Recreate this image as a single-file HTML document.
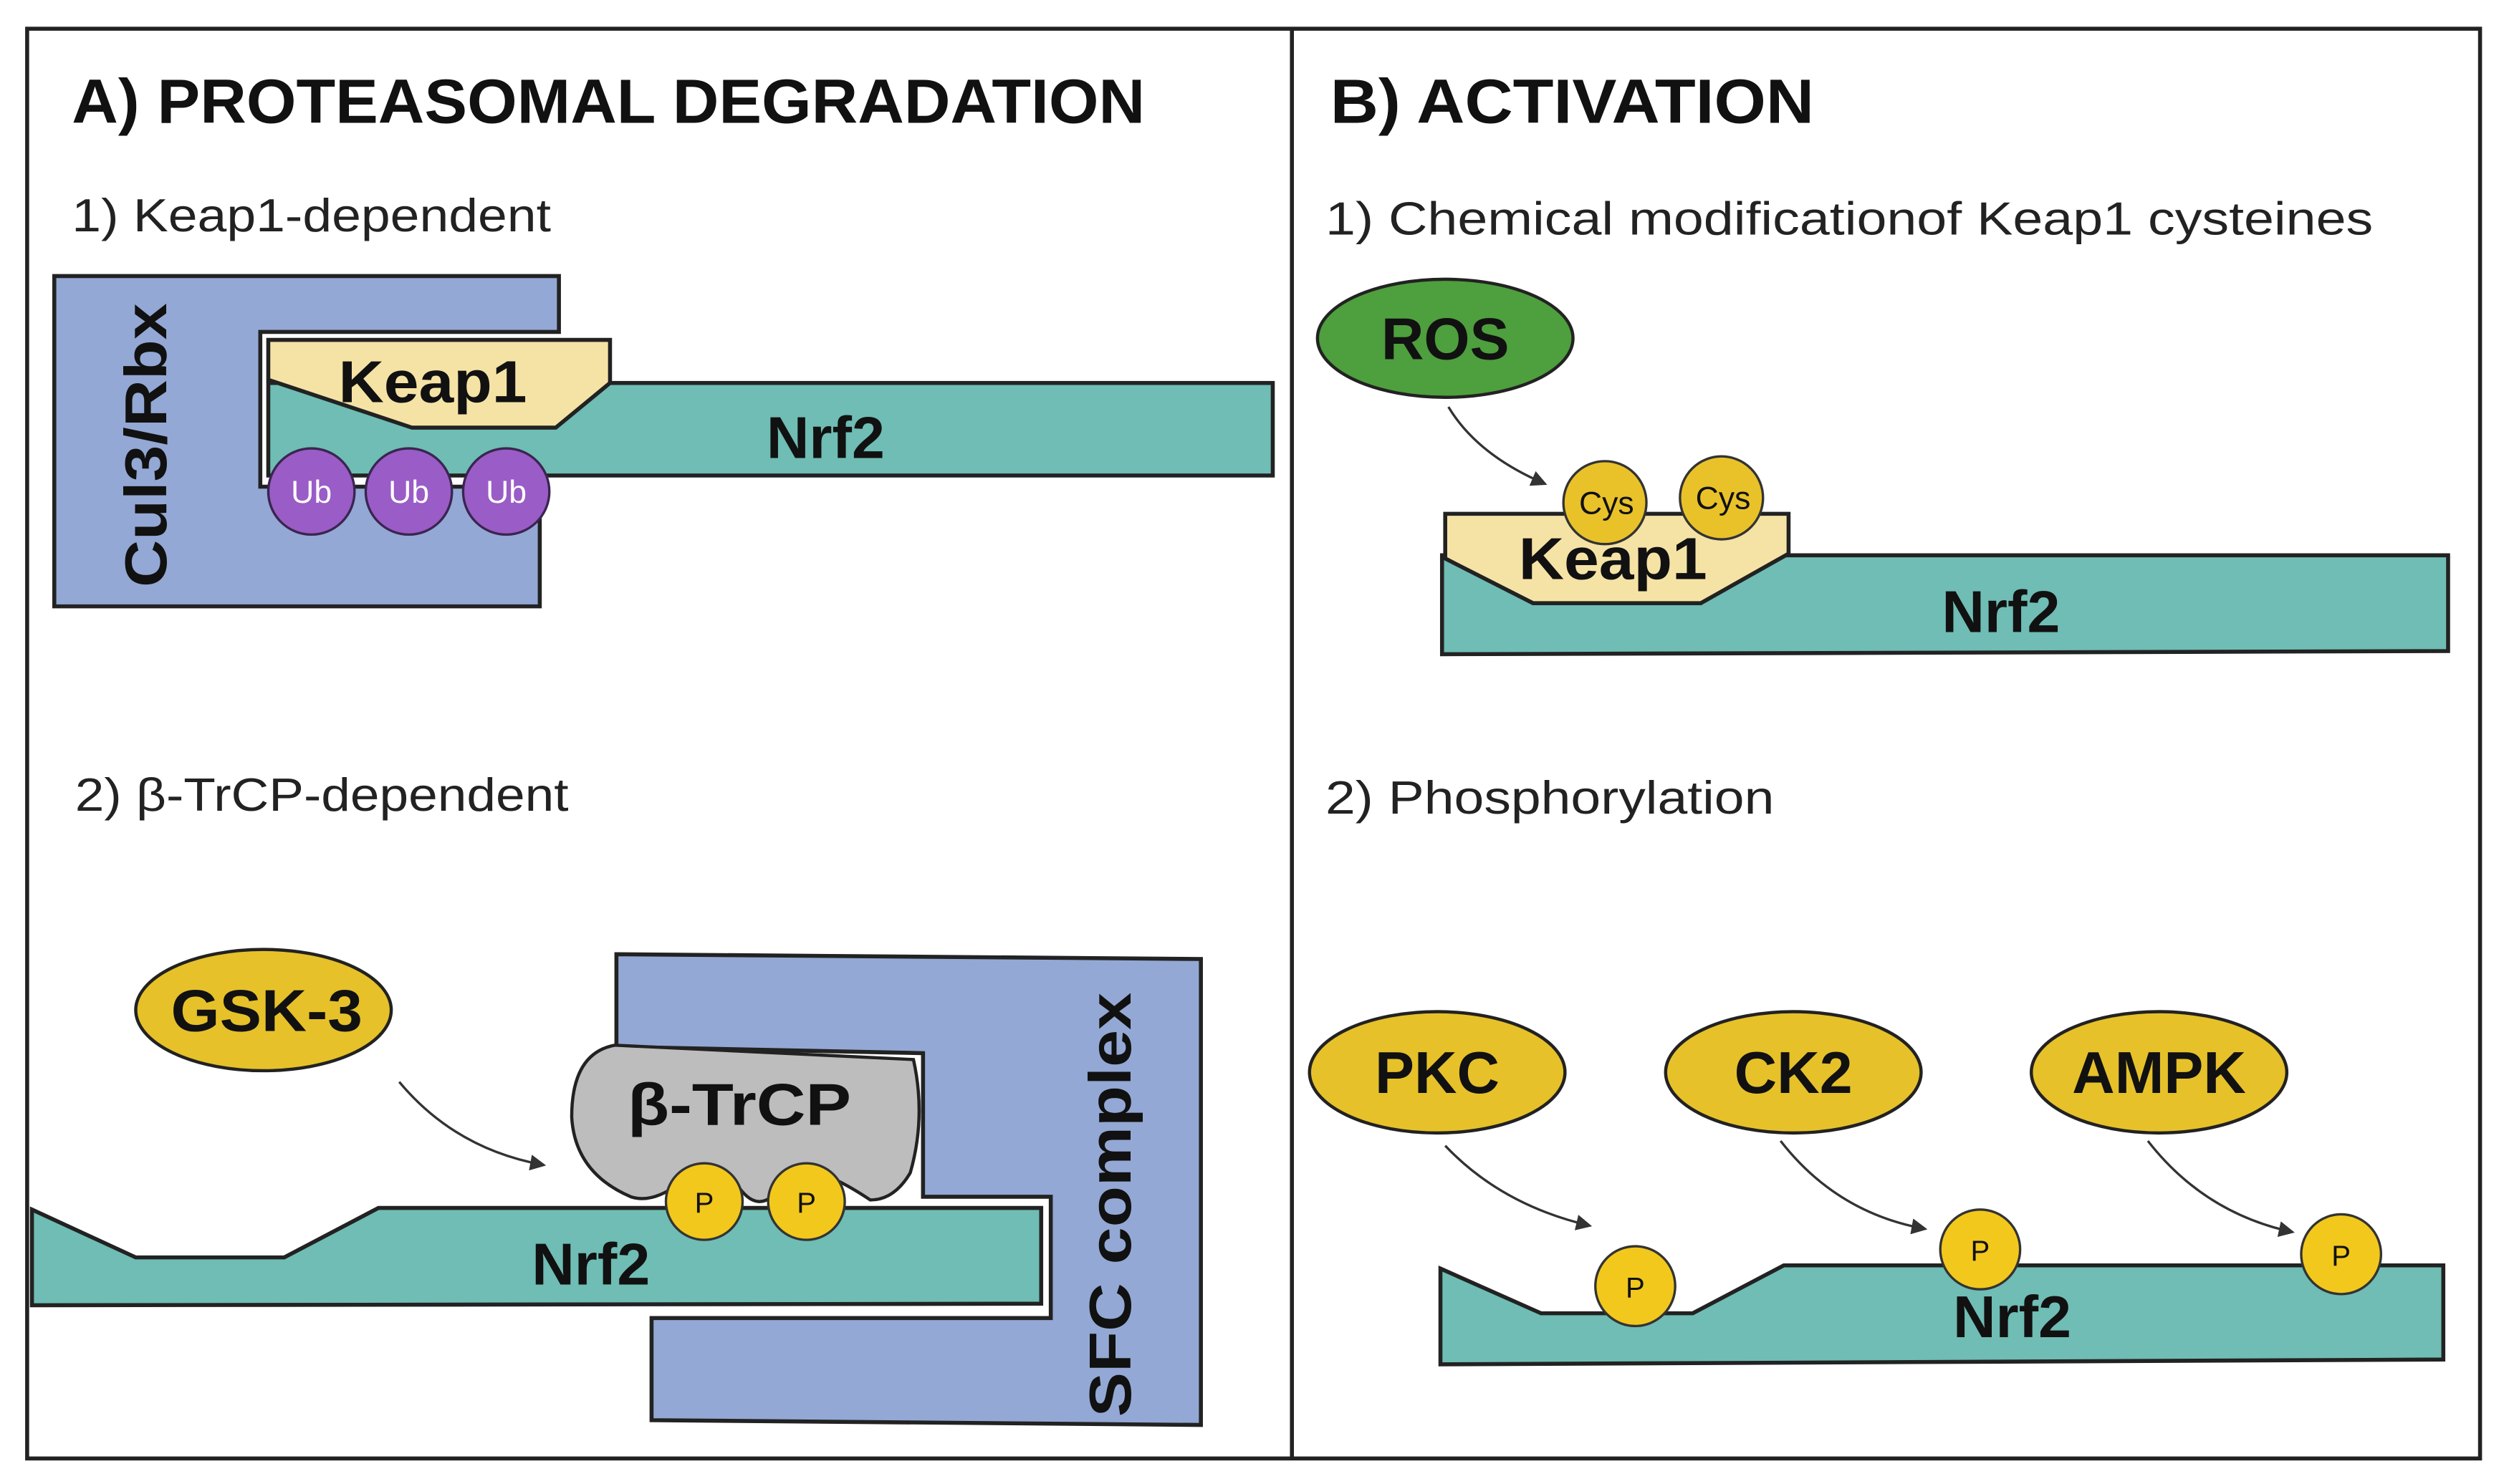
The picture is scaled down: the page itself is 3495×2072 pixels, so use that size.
<!DOCTYPE html>
<html><head><meta charset="utf-8"><style>
html,body{margin:0;padding:0;background:#fff}
svg{display:block}
text{font-family:"Liberation Sans",Arial,sans-serif}
.b{font-weight:bold}
</style></head><body>
<svg width="3495" height="2072" viewBox="0 0 1568 930" preserveAspectRatio="none" xmlns="http://www.w3.org/2000/svg">
<defs><marker id="ah" markerWidth="10" markerHeight="10" refX="8" refY="5" orient="auto" markerUnits="userSpaceOnUse"><path d="M0,0 L10,5 L0,10 Z" fill="#333"/></marker></defs>
<rect x="17" y="18" width="1536" height="896" fill="#fff" stroke="#222" stroke-width="2.5"/>
<line x1="809" y1="18" x2="809" y2="914" stroke="#222" stroke-width="2.5"/>

<!-- Panel A -->
<text x="45" y="77" class="b" font-size="39" fill="#111" textLength="672" lengthAdjust="spacingAndGlyphs">A) PROTEASOMAL DEGRADATION</text>
<text x="45" y="145" font-size="29" fill="#222" textLength="300" lengthAdjust="spacingAndGlyphs">1) Keap1-dependent</text>
<polygon points="34,173 350,173 350,208 163,208 163,305 338,305 338,380 34,380" fill="#93a8d4" stroke="#222" stroke-width="2.5"/>
<text transform="translate(104,279) rotate(-90)" text-anchor="middle" class="b" font-size="37" fill="#111" textLength="178" lengthAdjust="spacingAndGlyphs">Cul3/Rbx</text>
<rect x="168" y="240" width="629" height="58" fill="#6fbdb4" stroke="#222" stroke-width="2.5"/>
<polygon points="168,213 382,213 382,240 348,268 258,268 168,238" fill="#f5e3a6" stroke="#222" stroke-width="2.5"/>
<text x="271" y="252" text-anchor="middle" class="b" font-size="37" fill="#111" textLength="118" lengthAdjust="spacingAndGlyphs">Keap1</text>
<text x="517" y="287" text-anchor="middle" class="b" font-size="37" fill="#111">Nrf2</text>
<g fill="#9a5cc6" stroke="#3a2550" stroke-width="1.5">
<circle cx="195" cy="308" r="27"/><circle cx="256" cy="308" r="27"/><circle cx="317" cy="308" r="27"/></g>
<g fill="#fff" font-size="20" text-anchor="middle"><text x="195" y="315">Ub</text><text x="256" y="315">Ub</text><text x="317" y="315">Ub</text></g>

<text x="47" y="508" font-size="29" fill="#222" textLength="309" lengthAdjust="spacingAndGlyphs">2) β-TrCP-dependent</text>
<polygon points="386,598 752,601 752,893 408,890 408,826 658,826 658,750 578,750 578,660 386,656" fill="#93a8d4" stroke="#222" stroke-width="2.5"/>
<text transform="translate(708,755) rotate(-90)" text-anchor="middle" class="b" font-size="37" fill="#111" textLength="266" lengthAdjust="spacingAndGlyphs">SFC  complex</text>
<polygon points="20,758 85,788 178,788 237,757 652,757 652,817 20,818" fill="#6fbdb4" stroke="#222" stroke-width="2.5"/>
<path d="M385,655 L572,664 Q580,700 570,735 Q560,752 545,752 Q530,742 520,738 Q505,730 490,742 Q475,765 460,740 Q445,728 430,738 Q410,755 395,750 Q360,735 358,700 Q358,660 385,655 Z" fill="#bdbdbd" stroke="#222" stroke-width="2"/>
<text x="463" y="705" text-anchor="middle" class="b" font-size="37" fill="#111" textLength="140" lengthAdjust="spacingAndGlyphs">β-TrCP</text>
<g fill="#f2c81c" stroke="#333" stroke-width="1.5"><circle cx="441" cy="753" r="24"/><circle cx="505" cy="753" r="24"/></g>
<g font-size="18" text-anchor="middle" fill="#111"><text x="441" y="760">P</text><text x="505" y="760">P</text></g>
<text x="370" y="805" text-anchor="middle" class="b" font-size="37" fill="#111">Nrf2</text>
<ellipse cx="165" cy="633" rx="80" ry="38" fill="#e6c12a" stroke="#222" stroke-width="2"/>
<text x="167" y="646" text-anchor="middle" class="b" font-size="37" fill="#111" textLength="120" lengthAdjust="spacingAndGlyphs">GSK-3</text>
<path d="M250,678 Q285,720 340,730" fill="none" stroke="#333" stroke-width="1.5" marker-end="url(#ah)"/>

<!-- Panel B -->
<text x="833" y="77" class="b" font-size="39" fill="#111" textLength="303" lengthAdjust="spacingAndGlyphs">B) ACTIVATION</text>
<text x="830" y="147" font-size="29" fill="#222" textLength="656" lengthAdjust="spacingAndGlyphs">1) Chemical modificationof Keap1 cysteines</text>
<ellipse cx="905" cy="212" rx="80" ry="37" fill="#4e9f3d" stroke="#222" stroke-width="2"/>
<text x="905" y="225" text-anchor="middle" class="b" font-size="37" fill="#111">ROS</text>
<path d="M907,255 Q925,285 967,303" fill="none" stroke="#333" stroke-width="1.5" marker-end="url(#ah)"/>
<polygon points="903,348 1533,348 1533,408 903,410" fill="#6fbdb4" stroke="#222" stroke-width="2.5"/>
<polygon points="905,322 1120,322 1120,347 1065,378 960,378 905,350" fill="#f5e3a6" stroke="#222" stroke-width="2.5"/>
<g fill="#e9c22a" stroke="#333" stroke-width="1.5"><circle cx="1005" cy="315" r="26"/><circle cx="1078" cy="312" r="26"/></g>
<g font-size="20" text-anchor="middle" fill="#111"><text x="1006" y="322">Cys</text><text x="1079" y="319">Cys</text></g>
<text x="1010" y="363" text-anchor="middle" class="b" font-size="37" fill="#111" textLength="118" lengthAdjust="spacingAndGlyphs">Keap1</text>
<text x="1253" y="396" text-anchor="middle" class="b" font-size="37" fill="#111">Nrf2</text>

<text x="830" y="510" font-size="29" fill="#222" textLength="281" lengthAdjust="spacingAndGlyphs">2) Phosphorylation</text>
<polygon points="902,795 965,823 1060,823 1117,793 1530,793 1530,852 902,855" fill="#6fbdb4" stroke="#222" stroke-width="2.5"/>
<text x="1260" y="838" text-anchor="middle" class="b" font-size="37" fill="#111">Nrf2</text>
<g fill="#e6c12a" stroke="#222" stroke-width="2">
<ellipse cx="900" cy="672" rx="80" ry="38"/><ellipse cx="1123" cy="672" rx="80" ry="38"/><ellipse cx="1352" cy="672" rx="80" ry="38"/></g>
<g class="b" font-size="37" text-anchor="middle" fill="#111"><text x="900" y="685">PKC</text><text x="1123" y="685">CK2</text><text x="1352" y="685">AMPK</text></g>
<g fill="none" stroke="#333" stroke-width="1.5" marker-end="url(#ah)">
<path d="M905,718 Q940,755 995,768"/><path d="M1115,715 Q1150,760 1205,770"/><path d="M1345,715 Q1380,760 1435,772"/></g>
<g fill="#f2c81c" stroke="#333" stroke-width="1.5"><circle cx="1024" cy="806" r="25"/><circle cx="1240" cy="783" r="25"/><circle cx="1466" cy="786" r="25"/></g>
<g font-size="18" text-anchor="middle" fill="#111"><text x="1024" y="813">P</text><text x="1240" y="790">P</text><text x="1466" y="793">P</text></g>
</svg>
</body></html>
